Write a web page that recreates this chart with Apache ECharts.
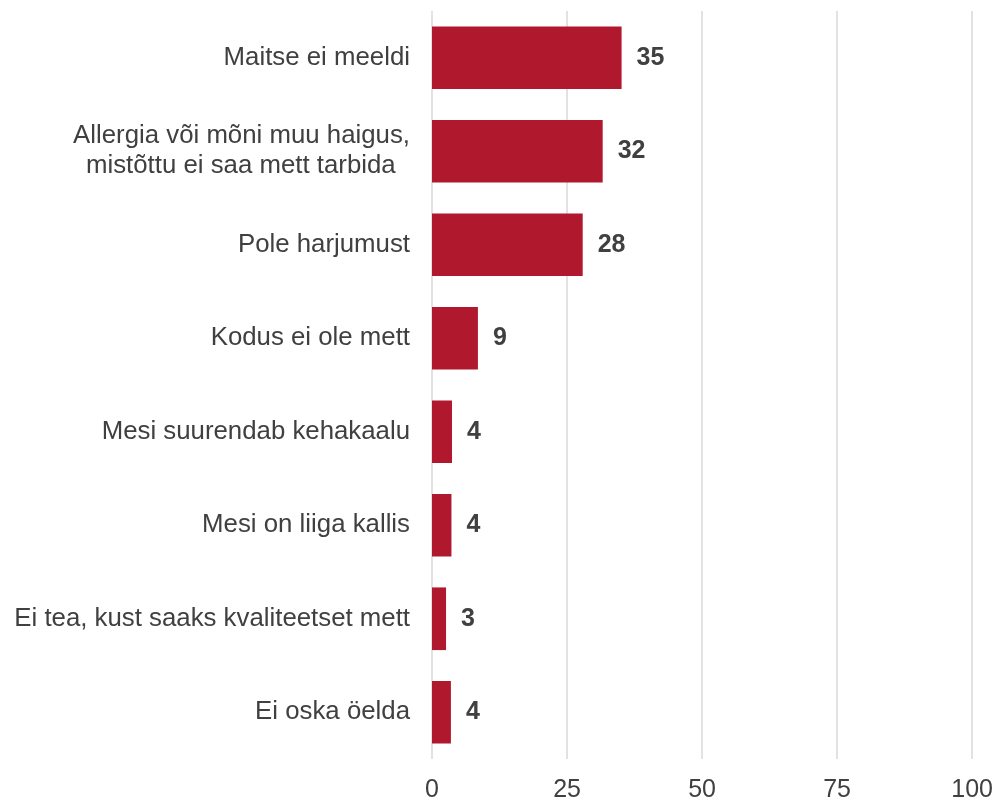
<!DOCTYPE html>
<html>
<head>
<meta charset="utf-8">
<script src="https://cdn.jsdelivr.net/npm/echarts@6/dist/echarts.min.js"></script>
<style>
  html, body { margin: 0; padding: 0; background: #fff; }
  #chart { width: 996px; height: 803px; }
</style>
</head>
<body>
<div id="chart"></div>
<script>
// kategooriad (ülevalt alla)
var categories = [
    'Maitse ei meeldi',
    'Allergia või mõni muu haigus,\nmistõttu ei saa mett tarbida  ',
    'Pole harjumust',
    'Kodus ei ole mett',
    'Mesi suurendab kehakaalu',
    'Mesi on liiga kallis',
    'Ei tea, kust saaks kvaliteetset mett',
    'Ei oska öelda'
];
// väärtused (%)
var values = [35.1, 31.6, 27.9, 8.5, 3.7, 3.6, 2.6, 3.5];
// x-telje jaotised
var xTicks = [0, 25, 50, 75, 100];

var textColor = '#404040';
var barColor = '#B0182D';

var chartDom = document.getElementById('chart');
var myChart = echarts.init(chartDom);
var option;
option = {
    animation: false,
    grid: {
        left: 432,
        right: 23,
        top: 11,
        bottom: 42
    },
    xAxis: {
        type: 'value',
        min: xTicks[0],
        max: xTicks[xTicks.length - 1],
        interval: 25,
        axisLine: { show: false },
        axisTick: { show: false },
        splitLine: {
            show: true,
            lineStyle: { color: '#d9d9d9', width: 1.5 }
        },
        axisLabel: {
            color: textColor,
            fontFamily: 'Liberation Sans, Arial, sans-serif',
            fontSize: 25,
            margin: 19
        }
    },
    yAxis: {
        type: 'category',
        inverse: true,
        data: categories,
        axisLine: { show: false },
        axisTick: { show: false },
        axisLabel: {
            color: textColor,
            fontFamily: 'Liberation Sans, Arial, sans-serif',
            fontSize: 25.8,
            lineHeight: 30,
            margin: 22
        }
    },
    series: [{
        type: 'bar',
        data: values,
        barCategoryGap: '33%',
        itemStyle: { color: barColor },
        label: {
            show: true,
            position: 'right',
            distance: 15,
            color: textColor,
            fontFamily: 'Liberation Sans, Arial, sans-serif',
            fontWeight: 'bold',
            fontSize: 25,
            formatter: function (p) {
                return Math.round(p.value);
            }
        }
    }]
};
option && myChart.setOption(option);
</script>
</body>
</html>
